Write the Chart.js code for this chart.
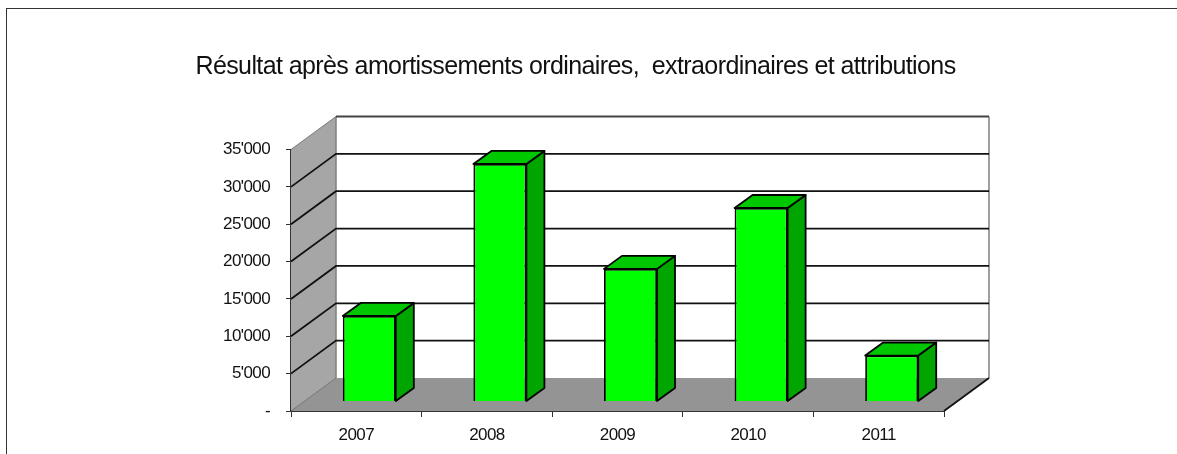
<!DOCTYPE html>
<html>
<head>
<meta charset="utf-8">
<title>Résultat après amortissements</title>
<script src="https://cdn.jsdelivr.net/npm/chart.js@4"></script>
<style>
  html, body { margin: 0; background: #fff; overflow: hidden; }
  #wrap { position: relative; width: 1177px; height: 454px; }
  #frame { position: absolute; left: 6px; top: 8px; width: 1171px; height: 446px; border: solid #333; border-width: 1px 0 0 1px; box-sizing: border-box; }
  canvas { position: absolute; left: 0; top: 0; }
</style>
</head>
<body>
<div id="wrap">
  <div id="frame"></div>
  <canvas id="chart" width="1177" height="454"></canvas>
</div>
<script>
const years = ["2007", "2008", "2009", "2010", "2011"];
const resultat = [11450, 31800, 17750, 25900, 6150];
const yTicks = [0, 5000, 10000, 15000, 20000, 25000, 30000, 35000];
const titleText = "Résultat après amortissements ordinaires,  extraordinaires et attributions";

// depth of the fake 3d box, and how far into it the bars stand
const DX = 45, DY = 33;
const BAR_DX = 13, BAR_DY = 9.5;
const SIDE_DX = 18, SIDE_DY = 13;

function fmt(v) {
  if (v === 0) return "-";
  return String(v).replace(/\B(?=(\d{3})+$)/g, "'");
}

function poly(ctx, pts, fill, stroke, lw) {
  ctx.beginPath();
  pts.forEach((p, i) => (i ? ctx.lineTo(p[0], p[1]) : ctx.moveTo(p[0], p[1])));
  ctx.closePath();
  if (fill) { ctx.fillStyle = fill; ctx.fill(); }
  if (stroke) { ctx.strokeStyle = stroke; ctx.lineWidth = lw || 1; ctx.stroke(); }
}

const box3d = {
  id: "box3d",
  beforeLayout(chart) {
    // the original text is a bit narrower than Liberation Sans
    chart.ctx.letterSpacing = "-0.6px";
  },
  afterLayout(chart) {
    // title is centred on the plot block in the original, not on the canvas
    chart.titleBlock.left = 0;
    chart.titleBlock.right = 1151;
  },
  beforeDatasetsDraw(chart) {
    const { ctx, chartArea: a, scales: { y } } = chart;
    ctx.save();
    // back wall
    poly(ctx, [[a.left + DX, a.top - DY], [a.right + DX, a.top - DY], [a.right + DX, a.bottom - DY], [a.left + DX, a.bottom - DY]], "#fff");
    // left wall and floor
    poly(ctx, [[a.left, a.top], [a.left + DX, a.top - DY], [a.left + DX, a.bottom - DY], [a.left, a.bottom]], "#a6a6a6");
    poly(ctx, [[a.left, a.bottom], [a.left + DX, a.bottom - DY], [a.right + DX, a.bottom - DY], [a.right, a.bottom]], "#949494");
    // wall edges
    ctx.strokeStyle = "#808080";
    ctx.lineWidth = 1.5;
    ctx.beginPath();
    ctx.moveTo(a.left + DX, a.bottom - DY);
    ctx.lineTo(a.left + DX, a.top - DY);
    ctx.moveTo(a.right + DX, a.top - DY);
    ctx.lineTo(a.right + DX, a.bottom - DY);
    ctx.stroke();
    // gridlines wrap round the left wall and back wall
    yTicks.forEach((v) => {
      const py = y.getPixelForValue(v);
      if (v === 0 || v === 35000) {
        // faint diagonal at both ends of the wall
        ctx.strokeStyle = "#666";
        ctx.lineWidth = 0.8;
        ctx.beginPath();
        ctx.moveTo(a.left, py);
        ctx.lineTo(a.left + DX, py - DY);
        ctx.stroke();
        if (v === 35000) {
          ctx.strokeStyle = "#444";
          ctx.lineWidth = 1.8;
          ctx.beginPath();
          ctx.moveTo(a.left + DX, py - DY);
          ctx.lineTo(a.right + DX, py - DY);
          ctx.stroke();
        }
        return;
      }
      ctx.strokeStyle = "#111";
      ctx.lineWidth = 1.8;
      ctx.beginPath();
      ctx.moveTo(a.left, py);
      ctx.lineTo(a.left + DX, py - DY);
      ctx.lineTo(a.right + DX, py - DY);
      ctx.stroke();
    });
    // floor front-right edge
    ctx.strokeStyle = "#111";
    ctx.lineWidth = 1.8;
    ctx.beginPath();
    ctx.moveTo(a.right, a.bottom);
    ctx.lineTo(a.right + DX, a.bottom - DY);
    ctx.stroke();
    ctx.restore();

    // side and top faces of each bar, from the bar elements themselves
    const meta = chart.getDatasetMeta(0);
    ctx.save();
    ctx.translate(BAR_DX, -BAR_DY);
    ctx.lineJoin = "round";
    meta.data.forEach((bar) => {
      const l = bar.x - bar.width / 2, r = bar.x + bar.width / 2, t = bar.y, b = bar.base;
      poly(ctx, [[r, t], [r + SIDE_DX, t - SIDE_DY], [r + SIDE_DX, b - SIDE_DY], [r, b]], "#00a500", "#000", 1.8);
      poly(ctx, [[l, t], [l + SIDE_DX, t - SIDE_DY], [r + SIDE_DX, t - SIDE_DY], [r, t]], "#00c800", "#000", 1.8);
    });
    ctx.restore();

    // front faces get drawn by chart.js, shifted into the box
    ctx.save();
    ctx.translate(BAR_DX, -BAR_DY);
  },
  afterDatasetsDraw(chart) {
    chart.ctx.restore();
  },
};

new Chart(document.getElementById("chart"), {
  type: "bar",
  data: {
    labels: years,
    datasets: [{ data: resultat, backgroundColor: "#00ff00", borderColor: "#000", borderWidth: 1.8, barPercentage: 0.406, categoryPercentage: 1, inflateAmount: 0 }],
  },
  options: {
    responsive: false,
    animation: false,
    clip: false,
    layout: { padding: { left: 0, top: 0, right: 233, bottom: 0 } },
    plugins: {
      legend: { display: false },
      tooltip: { enabled: false },
      title: {
        display: true,
        text: titleText,
        color: "#111",
        font: { family: "Liberation Sans", size: 25, weight: "normal" },
        padding: { top: 52, bottom: 67.5 },
      },
    },
    scales: {
      x: {
        afterFit(s) { s.height = 43; },
        border: { color: "#333", width: 2 },
        grid: { drawOnChartArea: false, color: "#333", tickLength: 6 },
        ticks: { color: "#111", font: { family: "Liberation Sans", size: 17 }, padding: 8, maxRotation: 0 },
      },
      y: {
        min: 0, max: 35000,
        afterFit(s) { s.width = 291; },
        afterBuildTicks(s) { s.ticks = yTicks.map((v) => ({ value: v })); },
        border: { color: "#333", width: 2 },
        grid: { drawOnChartArea: false, color: "#333", tickLength: 5 },
        ticks: { color: "#111", font: { family: "Liberation Sans", size: 17 }, padding: 16, callback: fmt },
      },
    },
  },
  plugins: [box3d],
});
</script>
</body>
</html>
